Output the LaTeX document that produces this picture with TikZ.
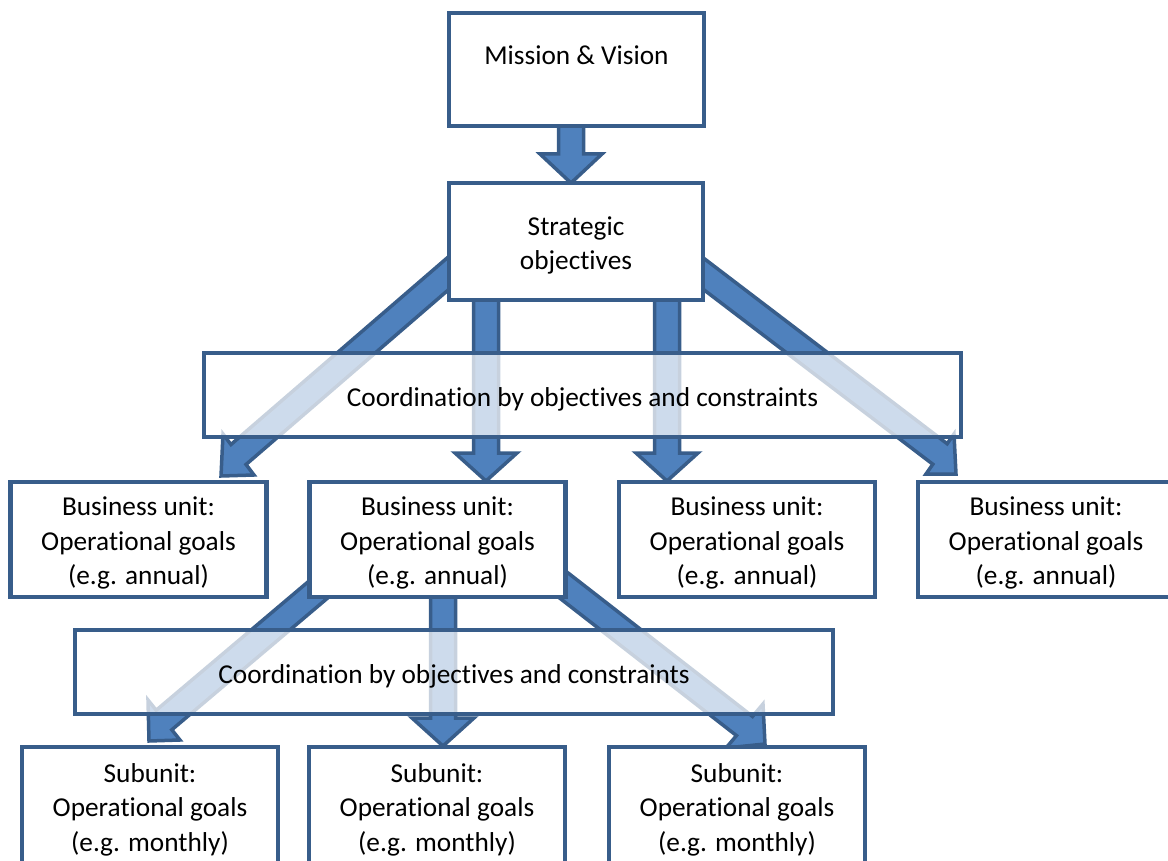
\documentclass[tikz,border=0pt]{standalone}
\usepackage{fontspec}
\setmainfont{Carlito}[Ligatures={NoCommon,NoContextual}]
\usetikzlibrary{calc}
\definecolor{edgeblue}{RGB}{56,93,138}
\definecolor{fillblue}{RGB}{79,129,189}
\pgfdeclarelayer{arrowlayer}
\pgfsetlayers{arrowlayer,main}
\newcommand\bodyfont{\fontsize{27.3}{34.5}\selectfont}
% block arrow: name, start (hidden under the source box), tip, wing 1, wing 2
\newcommand\blockarrow[5]{%
  \coordinate (#1s) at #2;
  \coordinate (#1t) at #3;
  \coordinate (#1w) at #4;
  \coordinate (#1v) at #5;
  \coordinate (#1h) at ($(#1w)!0.5!(#1v)$);
  \coordinate (#1a) at ($(#1h)!12.5pt!(#1w)$);
  \coordinate (#1b) at ($(#1h)!12.5pt!(#1v)$);
  \draw[arrowbody] ($(#1s)+(#1a)-(#1h)$) -- (#1a) -- (#1w) -- (#1t) -- (#1v)
    -- (#1b) -- ($(#1s)+(#1b)-(#1h)$) -- cycle;
}
\tikzset{
  boxstyle/.style={draw=edgeblue, line width=4.5pt, fill=white, outer sep=0pt,
    inner sep=0pt},
  coordbox/.style={boxstyle, fill opacity=0.72, draw opacity=1},
  labeltext/.style={inner sep=0pt, align=center, font=\bodyfont},
  arrowbody/.style={draw=edgeblue, fill=fillblue, line width=3.5pt, line join=miter},
}
\begin{document}
\begin{tikzpicture}[x=1pt, y=-1pt]
\useasboundingbox (0,0) rectangle (1168,861);
\clip (0,0) rectangle (1168,861);

% top of the hierarchy
\node[boxstyle, minimum width=255, minimum height=113] (mv) at (576.5,69.5) {};
\node[labeltext] (mv-t) at (576.5,55) {Mission \& Vision};
\node[boxstyle, minimum width=254, minimum height=117] (so) at (576,241.5) {};
\node[labeltext] (so-t) at ($(so)+(0,4)$) {Strategic\\objectives};

% first coordination layer
\node[coordbox, minimum width=757, minimum height=84] (co1) at (582.5,395) {};
\node[labeltext] (co1-t) at ($(co1)+(0,4)$) {Coordination by objectives and constraints};

% business units
\foreach \n/\x in {bu1/138.5, bu2/437.5, bu3/747, bu4/1046} {
  \node[boxstyle, minimum width=256, minimum height=115] (\n) at (\x,539.5) {};
  \node[labeltext] (\n-t) at ($(\n)+(0,3.5)$) {Business unit:\\Operational goals\\(e.g. annual)};
}

% second coordination layer
\node[coordbox, minimum width=758, minimum height=84] (co2) at (454,672) {};
\node[labeltext] (co2-t) at ($(co2)+(0,4)$) {Coordination by objectives and constraints};

% subunits
\foreach \n/\x in {su1/150, su2/437, su3/737} {
  \node[boxstyle, minimum width=256, minimum height=120] (\n) at (\x,807) {};
  \node[labeltext] (\n-t) at ($(\n)+(0,2.5)$) {Subunit:\\Operational goals\\(e.g. monthly)};
}

% block arrows, kept beneath the boxes
\begin{pgfonlayer}{arrowlayer}
\blockarrow{a0}{($(mv)+(-5.5,40.5)$)}{($(so.north)+(-5,0)$)}
  {($(so.north)+(-36,-29)$)}{($(so.north)+(26,-29)$)}
\blockarrow{a1}{($(so)+(-111,17.5)$)}{($(bu1.north)+(82.5,-6)$)}
  {($(bu1.north)+(84.5,-48)$)}{($(bu1.north)+(115.5,-7)$)}
\blockarrow{a2}{($(so)+(-90,48.5)$)}{($(bu2.north)+(48.5,-1)$)}
  {($(bu2.north)+(17.5,-29)$)}{($(bu2.north)+(79.5,-29)$)}
\blockarrow{a3}{($(so)+(91,48.5)$)}{($(bu3.north)+(-80,-1)$)}
  {($(bu3.north)+(-111,-29)$)}{($(bu3.north)+(-49,-29)$)}
\blockarrow{a4}{($(so)+(114,22)$)}{($(bu4.north)+(-90,-8)$)}
  {($(bu4.north)+(-92,-48)$)}{($(bu4.north)+(-120,-8)$)}
\blockarrow{b1}{($(bu2)+(-104,37.2)$)}{($(su1.north)+(-1,-6)$)}
  {($(su1.north)+(-2,-47)$)}{($(su1.north)+(30,-7)$)}
\blockarrow{b2}{($(bu2)+(5.5,45.5)$)}{($(su2.north)+(6,-1)$)}
  {($(su2.north)+(-25,-29)$)}{($(su2.north)+(37,-29)$)}
\blockarrow{b3}{($(bu2)+(115.3,37.4)$)}{($(su3.north)+(28,-3)$)}
  {($(su3.north)+(26,-43)$)}{($(su3.north)+(-11,1)$)}
\end{pgfonlayer}
\end{tikzpicture}
\end{document}
